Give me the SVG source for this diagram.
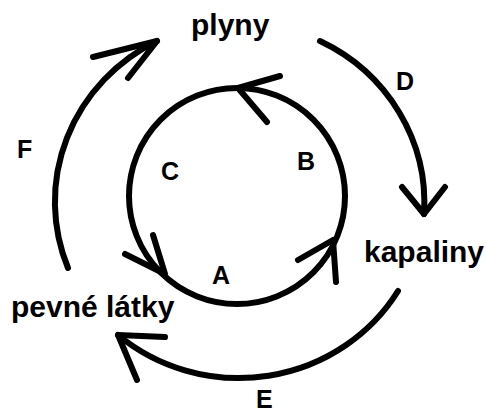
<svg xmlns="http://www.w3.org/2000/svg" width="486" height="414" viewBox="0 0 486 414">
<style>
.ln{fill:none;stroke:#000;stroke-width:6;stroke-linecap:round;stroke-linejoin:round}
.nd{font-family:"Liberation Sans",Arial,sans-serif;font-weight:bold;font-size:30px;fill:#000}
.lb{font-family:"Liberation Sans",Arial,sans-serif;font-weight:bold;font-size:25px;fill:#000}
</style>
<rect width="486" height="414" fill="#fff"/>
<g id="connectors">
<circle class="ln" cx="237" cy="196" r="108"/>
<polyline class="ln" points="280,76 238,88 267,122"/>
<polyline class="ln" points="125,254 165,274 153,235"/>
<polyline class="ln" points="298,260 333,240 336,282"/>
<path class="ln" d="M68,268 A186,180 0 0 1 157,41"/>
<polyline class="ln" points="93,57 157,41 128,78"/>
<path class="ln" d="M320,41 A186,180 0 0 1 424,214"/>
<polyline class="ln" points="402,187 424,214 445,187"/>
<path class="ln" d="M398,291 A186,180 0 0 1 118,335"/>
<polyline class="ln" points="165,337 118,335 137,380"/>
<text class="lb" x="212" y="284">A</text>
<text class="lb" x="297" y="170">B</text>
<text class="lb" x="161" y="180">C</text>
<text class="lb" x="396" y="90">D</text>
<text class="lb" x="256" y="408">E</text>
<text class="lb" x="17" y="158">F</text>
</g>
<g id="plyny"><text class="nd" x="191" y="35">plyny</text></g>
<g id="kapaliny"><text class="nd" x="364" y="262">kapaliny</text></g>
<g id="pevne-latky"><text class="nd" x="11" y="317">pevné látky</text></g>
</svg>
